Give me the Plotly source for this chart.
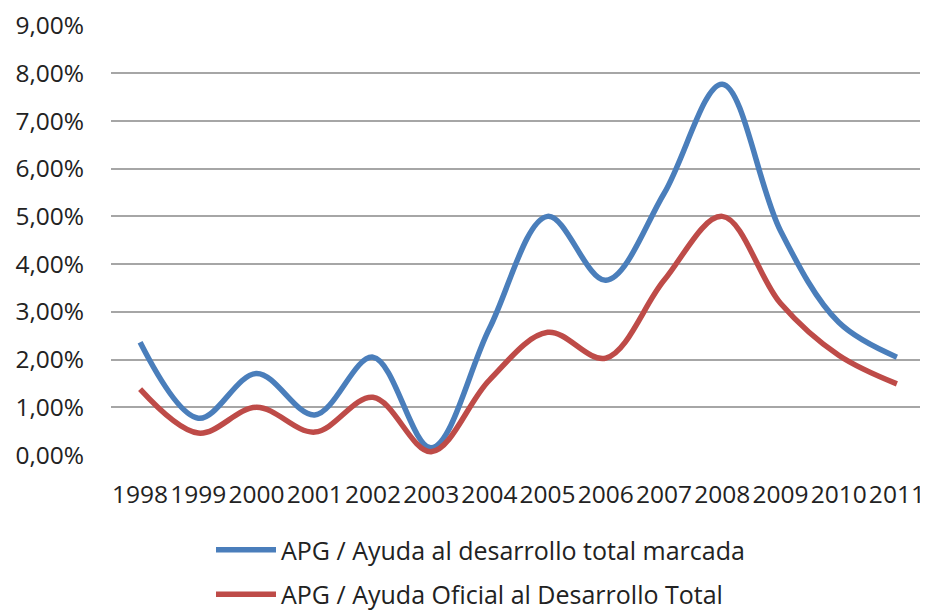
import plotly.graph_objects as go

years = ["1998", "1999", "2000", "2001", "2002", "2003", "2004",
         "2005", "2006", "2007", "2008", "2009", "2010", "2011"]
apg_total_marcada = [0.0236, 0.0077, 0.0171, 0.0084, 0.0205, 0.0015, 0.0265,
                     0.0500, 0.0366, 0.0548, 0.0777, 0.0470, 0.0278, 0.0205]
apg_aod_total = [0.0138, 0.0046, 0.0100, 0.0048, 0.0121, 0.0007, 0.0157,
                 0.0257, 0.0203, 0.0366, 0.0500, 0.0318, 0.0209, 0.0149]
name_blue = "APG / Ayuda al desarrollo total marcada"
name_red = "APG / Ayuda Oficial al Desarrollo Total"
y_ticks = [i / 100 for i in range(0, 10)]

W, H = 920, 606  # page body adds an 8px margin

fig = go.Figure()
fig.add_trace(go.Scatter(x=years, y=apg_total_marcada, name=name_blue, mode="lines",
                         line=dict(color="#4A7EBB", width=5.5, shape="spline", smoothing=1),
                         legendgroup="a"))
fig.add_trace(go.Scatter(x=years, y=apg_aod_total, name=name_red, mode="lines",
                         line=dict(color="#BE4B48", width=5.5, shape="spline", smoothing=1),
                         legendgroup="b"))

fig.update_layout(
    width=W, height=H,
    margin=dict(l=103, r=2, t=17, b=159, autoexpand=False),
    paper_bgcolor="white", plot_bgcolor="white",
    separators=",.",
    font=dict(family="Open Sans", size=24, color="#222222"),
    showlegend=True,
    legend=dict(orientation="v", xref="container", yref="container",
                x=203 / W, xanchor="left", y=(H - 519) / H, yanchor="top",
                font=dict(size=25, color="#222222"), tracegroupgap=9,
                itemwidth=60, bgcolor="rgba(0,0,0,0)"),
    xaxis=dict(type="category", range=[-0.5, 13.5], showgrid=False, showline=False,
               zeroline=False, ticks="", tickangle=0, ticklabelstandoff=22,
               tickfont=dict(size=24.5)),
    yaxis=dict(range=[0, 0.0901], tickvals=y_ticks, tickformat=".2%", showgrid=True,
               gridcolor="#A6A6A6", gridwidth=1.5, zeroline=False, showline=False,
               ticks="", ticklabelstandoff=26, tickfont=dict(size=24.5)),
)

fig.write_html("out.html")
